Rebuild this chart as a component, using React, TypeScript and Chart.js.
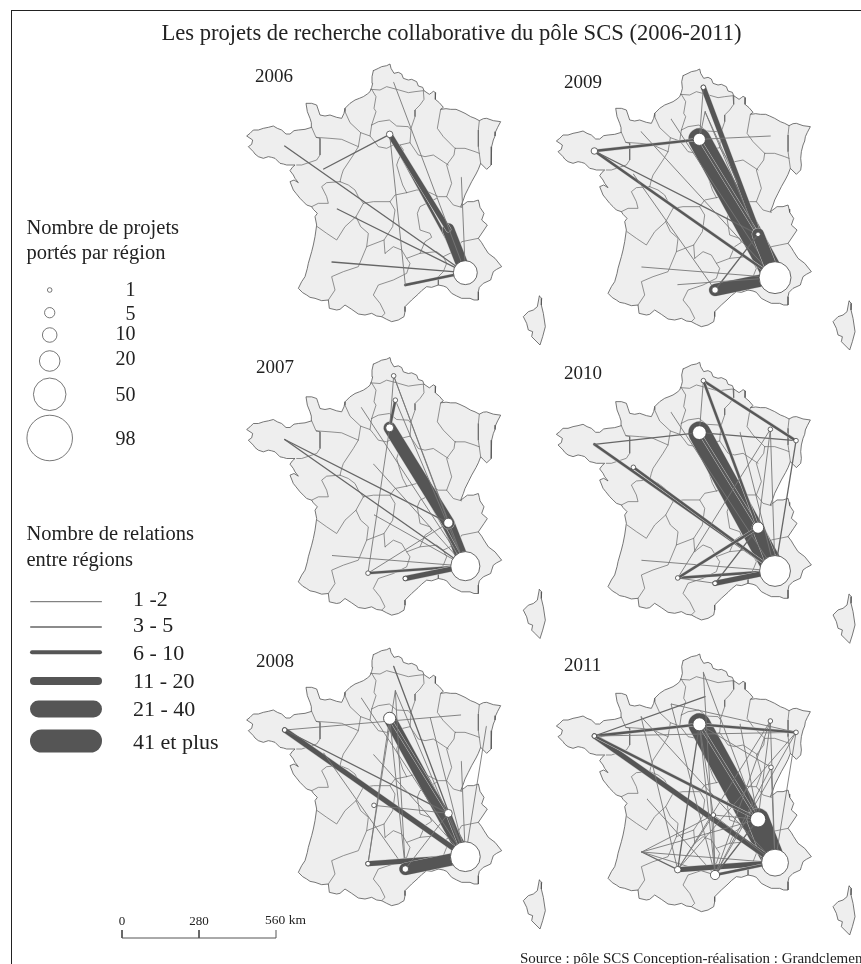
import React, { useEffect, useRef } from "react";
import { Chart, registerables } from "chart.js";

Chart.register(...registerables);

type Pt = [number, number];
type Link = [string, string, number];

// ---------- data ----------
const titleText = "Les projets de recherche collaborative du pôle SCS (2006-2011)";
const years = ["2006", "2007", "2008", "2009", "2010", "2011"];

const franceOutline: Pt[] = [
  [430,62],[445,55],[455,50],[470,47],[480,42],[483,55],[492,70],[505,67],[515,72],[520,85],[535,90],[545,88],[560,95],[565,108],[578,112],[582,122],[598,133],[605,128],[610,124],[617,128],[616,148],[628,158],[640,172],[632,178],[648,176],[662,178],[678,178],[690,183],[705,190],[722,200],[735,205],[748,212],[760,206],[770,205],[790,212],[812,215],[803,232],[797,245],[795,258],[790,270],[785,290],[783,310],[785,330],[783,345],[770,358],[760,348],[752,340],[745,358],[738,372],[725,395],[715,415],[705,435],[700,450],[692,470],[703,462],[712,455],[730,455],[745,450],[748,462],[750,472],[762,490],[755,510],[772,525],[762,540],[745,565],[755,578],[762,590],[775,610],[795,625],[815,650],[800,658],[790,665],[785,680],[782,690],[760,700],[748,712],[745,725],[745,750],[732,750],[720,745],[695,745],[680,738],[665,730],[650,712],[640,708],[625,705],[605,712],[590,710],[575,722],[565,732],[545,750],[525,770],[525,785],[522,800],[505,810],[485,815],[470,808],[455,800],[440,798],[425,790],[405,795],[385,792],[365,778],[345,765],[330,778],[320,780],[298,775],[295,750],[275,752],[255,745],[240,742],[230,735],[218,728],[205,715],[215,695],[225,680],[232,655],[235,640],[245,605],[250,585],[255,560],[260,525],[255,500],[262,490],[250,478],[245,470],[230,465],[220,455],[210,445],[198,430],[190,420],[180,395],[192,390],[205,398],[195,385],[190,375],[180,362],[187,352],[195,345],[170,345],[160,342],[150,340],[135,325],[125,322],[115,320],[100,325],[85,320],[75,312],[70,305],[55,290],[65,283],[68,270],[50,258],[60,250],[70,240],[85,240],[100,235],[115,232],[130,228],[142,235],[155,240],[168,252],[180,252],[192,242],[205,240],[225,238],[245,232],[244,218],[240,205],[232,185],[228,160],[245,160],[260,165],[265,180],[270,195],[285,198],[300,195],[320,202],[335,205],[342,190],[345,175],[360,160],[375,150],[388,145],[400,140],[412,132],[420,125],[425,112],[428,100],[426,80],[430,62],
];
const corsicaOutline: Pt[] = [
  [928,738],[935,745],[934,765],[940,790],[946,830],[938,860],[930,885],[915,870],[905,860],[908,845],[895,840],[890,820],[880,800],[895,785],[910,780],[922,770],[928,738],
];
const regionBorders: Pt[][] = [
  [[422,118],[450,120],[470,110],[500,118],[535,128],[555,125],[580,122]],
  [[425,118],[438,140],[432,175],[438,185],[425,225]],
  [[580,122],[582,148],[570,165],[555,180],[555,200],[543,235]],
  [[425,225],[445,215],[478,210],[500,228],[535,230],[543,240],[540,278],[510,285],[495,282],[470,295],[445,290],[430,270],[420,258],[425,225]],
  [[345,175],[345,185],[360,218],[392,248],[420,258]],
  [[245,232],[258,262],[300,265],[335,268],[385,290],[392,248]],
  [[385,290],[370,315],[340,360],[335,375],[330,395]],
  [[258,262],[270,265],[270,315],[260,330],[215,345],[200,345]],
  [[330,395],[290,398],[275,410],[290,440],[295,460],[265,460],[245,470]],
  [[330,395],[355,405],[375,420],[385,440],[400,460]],
  [[400,460],[430,455],[480,455],[495,435],[530,428]],
  [[510,285],[520,300],[505,330],[500,345],[510,380],[518,405],[530,428]],
  [[540,278],[565,315],[585,320],[610,315],[640,335],[655,345]],
  [[632,178],[622,235],[640,260],[665,285],[675,295]],
  [[748,212],[745,240],[745,290],[752,340]],
  [[675,295],[705,295],[735,305],[748,310]],
  [[675,295],[672,315],[650,345],[665,400],[650,440],[670,465],[695,472]],
  [[530,428],[560,420],[580,420],[600,428],[625,440],[650,440]],
  [[620,445],[570,470],[562,490],[570,540],[600,550],[605,562],[585,575],[570,610]],
  [[480,455],[495,480],[488,530],[462,570],[465,610]],
  [[400,460],[378,500],[345,530],[320,570],[290,550],[262,530]],
  [[378,500],[392,530],[415,550],[410,590],[462,570]],
  [[410,590],[385,650],[340,665],[305,680],[315,720],[295,750]],
  [[465,610],[490,590],[515,600],[530,625],[570,610],[620,605],[640,620]],
  [[530,625],[540,640],[530,670],[490,690],[445,705],[430,735],[450,760],[465,790],[455,800]],
  [[745,565],[720,570],[695,575],[680,600],[640,620]],
  [[640,620],[650,640],[640,665],[625,680],[625,705]],
];

const regionNodes: Record<string, Pt> = {
  MAR: [706,668], IDF: [479,253], LYO: [655,538], TOU: [414,689], LR: [526,705],
  BRE: [164,288], LIL: [491,97], PIC: [496,170], ALS: [769,277], LOR: [692,243],
  FC: [694,382], CEN: [431,362], AUV: [521,525], PDL: [281,357], POI: [322,477],
  AQU: [306,636], LIM: [432,514], HNO: [394,192], BNO: [304,230], BOU: [594,385],
  CHA: [601,252],
};

const links2006: Link[] = [
  ["IDF","MAR",3],["LYO","MAR",5],["IDF","LYO",4],["BRE","MAR",2],["POI","MAR",2],["AQU","MAR",2],
  ["FC","MAR",1],["LR","MAR",3],["LIL","MAR",1],["IDF","PDL",2],["IDF","LR",1],
];
const links2007: Link[] = [
  ["LYO","MAR",5],["IDF","MAR",3],["IDF","LYO",5],["LIL","LYO",1],["LIL","MAR",1],["PIC","MAR",1],["PIC","IDF",3],
  ["LIL","IDF",1],["TOU","IDF",1],["TOU","MAR",3],["TOU","LYO",1],["LR","MAR",4],["BRE","MAR",2],["BRE","LYO",2],
  ["HNO","MAR",1],["CEN","MAR",1],["LIM","MAR",1],["AQU","MAR",1],
];
const links2008: Link[] = [
  ["IDF","MAR",5],["LYO","MAR",4],["IDF","LYO",3],["BRE","MAR",4],["BRE","LYO",2],["BRE","LOR",1],["LIL","MAR",2],
  ["PIC","TOU",1],["PIC","MAR",1],["PIC","LR",1],["HNO","MAR",1],["CHA","MAR",1],["IDF","TOU",1],["IDF","LR",1],
  ["FC","MAR",1],["ALS","MAR",1],["CEN","MAR",1],["LIM","LYO",1],["PDL","LR",1],["TOU","MAR",4],["LR","MAR",5],["LR","LYO",1],
];
const links2009: Link[] = [
  ["IDF","MAR",6],["LIL","MAR",4],["IDF","LYO",3],["BRE","IDF",3],["BRE","MAR",3],["BRE","LYO",2],["PDL","LR",1],
  ["BNO","MAR",1],["HNO","MAR",1],["LIL","IDF",1],["PIC","MAR",1],["PIC","IDF",1],["PIC","BOU",1],["LOR","IDF",1],
  ["LYO","MAR",5],["LR","MAR",5],["LR","LYO",2],["AQU","MAR",1],["TOU","MAR",1],
];
const links2010: Link[] = [
  ["IDF","MAR",6],["LYO","MAR",5],["IDF","LYO",3],["BRE","MAR",3],["PDL","MAR",3],["BRE","IDF",2],["IDF","ALS",2],
  ["LIL","ALS",3],["LIL","IDF",1],["LIL","LYO",3],["HNO","MAR",1],["LOR","MAR",1],["LOR","TOU",1],["LOR","LYO",1],
  ["ALS","MAR",2],["AQU","MAR",1],["TOU","MAR",3],["TOU","LYO",3],["LR","MAR",4],["LR","LYO",2],["CHA","MAR",1],["TOU","LR",1],
];
const links2011: Link[] = [
  ["IDF","MAR",6],["LYO","MAR",6],["IDF","LYO",3],["BRE","IDF",3],["BRE","MAR",4],["BRE","LYO",3],["BRE","ALS",1],
  ["IDF","ALS",3],["HNO","ALS",1],["BRE","PIC",2],["LIL","LR",1],["LIL","LYO",1],["BNO","TOU",1],["BNO","MAR",1],
  ["HNO","LR",1],["POI","LR",1],["AQU","AUV",1],["AQU","LYO",1],["AQU","MAR",1],["AQU","TOU",2],["AQU","LR",1],
  ["TOU","IDF",2],["TOU","MAR",4],["LR","MAR",3],["LR","IDF",1],["LR","AUV",1],["LR","LYO",2],["LR","LOR",1],
  ["LOR","MAR",1],["LOR","TOU",1],["ALS","LR",1],["ALS","MAR",1],["FC","MAR",1],["FC","IDF",1],["FC","LR",1],
  ["CHA","LYO",1],["AUV","LYO",1],["AUV","MAR",1],["IDF","AUV",1],["TOU","AUV",1],["ALS","TOU",1],["LOR","LYO",1],
];
const allLinks = [links2006, links2007, links2008, links2009, links2010, links2011];

const counts2006: Record<string, number> = { MAR: 27, IDF: 2 };
const counts2007: Record<string, number> = { MAR: 40, IDF: 3, LYO: 4, LIL: 1, PIC: 1, TOU: 1, LR: 1 };
const counts2008: Record<string, number> = { MAR: 42, IDF: 7, LYO: 3, BRE: 1, TOU: 1, LR: 2, LIM: 1 };
const counts2009: Record<string, number> = { MAR: 48, IDF: 7, LYO: 1, BRE: 2, LIL: 1, LR: 2 };
const counts2010: Record<string, number> = { MAR: 45, IDF: 9, LYO: 6, LIL: 1, LOR: 1, ALS: 1, PDL: 1, TOU: 1, LR: 1 };
const counts2011: Record<string, number> = { MAR: 34, IDF: 8, LYO: 11, BRE: 1, LOR: 1, ALS: 1, FC: 1, AUV: 1, TOU: 2, LR: 4 };
const allCounts = [counts2006, counts2007, counts2008, counts2009, counts2010, counts2011];

const legendProjectValues = [1, 5, 10, 20, 50, 98];
const legendRelationLabels = ["1 -2", "3 - 5", "6 - 10", "11 - 20", "21 - 40", "41 et plus"];
const scaleKm = [0, 280, 560];

// ---------- layout ----------
const W = 861;
const H = 964;
const TITLE_H = 50;
const LEFT_PAD = 42;
const panelOrigins: Pt[] = [[230,50],[230,343.5],[230,634],[539.7,55],[539.7,348.3],[539.7,640]];
const yearPos: Pt[] = [[255,75],[256,366],[256,660],[564,81],[564,372],[564,664]];
const circleY = [290, 312.7, 335, 361, 394.3, 438];
const circleLabelY = [289, 313, 333, 358, 394, 438];
const lineY = [601.7, 627, 652.3, 681, 709, 741];
const lineLabelY = [599, 625, 653, 681, 709, 742];
const legendLineWidth = [1, 1.5, 4, 8, 17, 23];
const mapLineWidth = [0, 0.9, 1.3, 2.4, 5, 12, 22];
const mapLineColor = ["", "#777777", "#666666", "#585858", "#555555", "#555555", "#555555"];
const scaleX = 122;
const scaleKmPx = 154 / 560;
const scaleY = 938;
const radius = (v: number) => 2.3 * Math.sqrt(v);

function lineDs(points: Pt[], color: string, width: number, extra: object = {}) {
  return {
    type: "scatter",
    data: points.map(([x, y]) => ({ x, y })),
    showLine: true,
    borderColor: color,
    borderWidth: width,
    borderCapStyle: "round",
    borderJoinStyle: "round",
    backgroundColor: "rgba(0,0,0,0)",
    pointRadius: 0,
    tension: 0,
    clip: false,
    fill: false,
    ...extra,
  };
}

function buildDatasets() {
  const paint: any[] = [];
  panelOrigins.forEach(([ox, oy], i) => {
    const tr = ([x, y]: Pt): Pt => [ox + x / 3, oy + y / 3];
    for (const shape of [franceOutline, corsicaOutline]) {
      paint.push(lineDs(shape.map(tr), "#555555", 0.8, { fill: "shape", backgroundColor: "#eeeeee" }));
    }
    for (const b of regionBorders) paint.push(lineDs(b.map(tr), "#666666", 0.7));
    for (const [a, b, cls] of allLinks[i]) {
      const seg = [tr(regionNodes[a]), tr(regionNodes[b])];
      if (cls >= 3) paint.push(lineDs(seg, "#c8c8c8", mapLineWidth[cls] + 0.9));
      paint.push(lineDs(seg, mapLineColor[cls], mapLineWidth[cls]));
    }
    const names = Object.keys(allCounts[i]).sort((p, q) => allCounts[i][q] - allCounts[i][p]);
    paint.push({
      type: "scatter",
      data: names.map((n) => {
        const [x, y] = tr(regionNodes[n]);
        return { x, y };
      }),
      pointRadius: names.map((n) => radius(allCounts[i][n])),
      pointBackgroundColor: "#ffffff",
      pointBorderColor: "#444444",
      pointBorderWidth: 0.8,
      clip: false,
    });
  });
  // legend: circles
  paint.push({
    type: "scatter",
    data: legendProjectValues.map((_, i) => ({ x: 49.7, y: circleY[i] })),
    pointRadius: legendProjectValues.map(radius),
    pointBackgroundColor: "#ffffff",
    pointBorderColor: "#555555",
    pointBorderWidth: 0.8,
    clip: false,
  });
  // legend: lines
  legendRelationLabels.forEach((_, i) => {
    const w = legendLineWidth[i];
    paint.push(lineDs([[30 + w / 2, lineY[i]], [102 - w / 2, lineY[i]]], i < 2 ? "#666666" : "#555555", w));
  });
  // scale bar
  const sx = (km: number) => scaleX + km * scaleKmPx;
  paint.push(lineDs([[sx(scaleKm[0]), scaleY - 8], [sx(scaleKm[0]), scaleY], [sx(scaleKm[2]), scaleY], [sx(scaleKm[2]), scaleY - 8]], "#555555", 1, { borderCapStyle: "butt" }));
  paint.push(lineDs([[sx(scaleKm[1]), scaleY - 8], [sx(scaleKm[1]), scaleY]], "#555555", 1, { borderCapStyle: "butt" }));
  return paint.reverse();
}

const serif = '"Liberation Serif", "Times New Roman", serif';

function Label(props: { x: number; y: number; size: number; text: string; align?: "left" | "right" | "center" }) {
  const { x, y, size, text, align = "left" } = props;
  const shift = align === "right" ? "-100%" : align === "center" ? "-50%" : "0";
  return (
    <span
      style={{
        position: "absolute",
        left: x,
        top: y,
        transform: `translate(${shift}, -50%)`,
        font: `${size}px ${serif}`,
        lineHeight: 1,
        color: "#222",
        whiteSpace: "nowrap",
      }}
    >
      {text}
    </span>
  );
}

export default function App() {
  const ref = useRef<HTMLCanvasElement>(null);
  useEffect(() => {
    const chart = new Chart(ref.current as HTMLCanvasElement, {
      type: "scatter",
      data: { datasets: buildDatasets() as any },
      options: {
        animation: false,
        responsive: false,
        events: [],
        layout: { autoPadding: false, padding: { left: LEFT_PAD, right: 0, top: 0, bottom: 0 } },
        scales: {
          x: { type: "linear", display: false, min: LEFT_PAD, max: W },
          y: { type: "linear", display: false, reverse: true, min: TITLE_H, max: H },
        },
        plugins: {
          legend: { display: false },
          tooltip: { enabled: false },
          title: {
            display: true,
            text: titleText,
            color: "#222",
            padding: { top: 21, bottom: 3 },
            font: { family: serif, size: 22.6, weight: "normal", lineHeight: "26px" },
          },
        },
      } as any,
    });
    return () => chart.destroy();
  }, []);
  return (
    <div style={{ position: "absolute", left: 0, top: 0, width: W, height: H, overflow: "hidden", background: "#fff" }}>
      <canvas ref={ref} width={W} height={H} style={{ position: "absolute", left: 0, top: 0, display: "block" }} />
      <div style={{ position: "absolute", left: 11, top: 10, right: -4, bottom: -4, borderTop: "1.5px solid #222", borderLeft: "1.5px solid #222" }} />
      {years.map((y, i) => (
        <Label key={y} x={yearPos[i][0]} y={yearPos[i][1]} size={19} text={y} />
      ))}
      <Label x={26.5} y={227} size={20.5} text="Nombre de projets" />
      <Label x={26.5} y={252} size={20.5} text="portés par région" />
      {legendProjectValues.map((v, i) => (
        <Label key={v} x={135.5} y={circleLabelY[i]} size={20} text={String(v)} align="right" />
      ))}
      <Label x={26.5} y={533} size={20.5} text="Nombre de relations" />
      <Label x={26.5} y={559} size={20.5} text="entre régions" />
      {legendRelationLabels.map((t, i) => (
        <Label key={t} x={133} y={lineLabelY[i]} size={22} text={t} />
      ))}
      <Label x={122} y={920} size={13} text={String(scaleKm[0])} align="center" />
      <Label x={199} y={920} size={13} text={String(scaleKm[1])} align="center" />
      <Label x={265} y={920} size={13.5} text={`${scaleKm[2]} km`} />
      <Label x={520} y={958} size={15} text="Source : pôle SCS Conception-réalisation : Grandclement" />
    </div>
  );
}
